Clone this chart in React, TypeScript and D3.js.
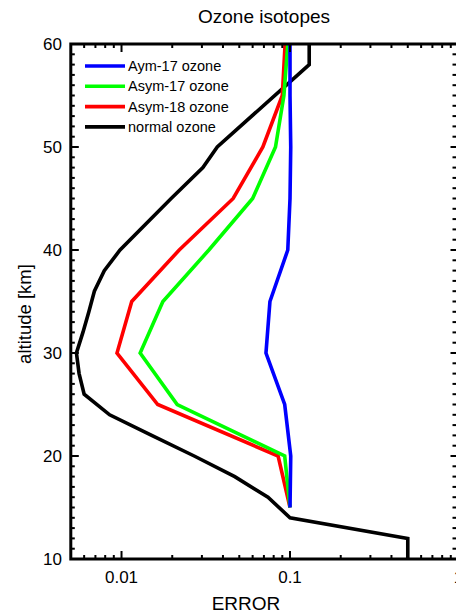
import * as d3 from 'd3';
import React from 'react';

// altitude levels [km]
const altIso = [60, 55, 50, 45, 40, 35, 30, 25, 20, 15];
const altNormal = [60, 58, 50, 48, 45, 40, 38, 36, 34, 32, 30, 28, 26, 24, 22, 20, 18, 16, 14, 12, 10];

// error values
const aym17 = [0.1, 0.1, 0.101, 0.1, 0.097, 0.076, 0.072, 0.093, 0.101, 0.1];
const asym17 = [0.097, 0.092, 0.082, 0.06, 0.033, 0.0176, 0.0129, 0.0214, 0.093, 0.1];
const asym18 = [0.0935, 0.09, 0.069, 0.046, 0.022, 0.0115, 0.0094, 0.0164, 0.085, 0.1];
const normal = [0.13, 0.13, 0.037, 0.0304, 0.0197, 0.0098, 0.0079, 0.0069, 0.0064, 0.0059, 0.0054, 0.0056, 0.006, 0.0085, 0.0151, 0.027, 0.047, 0.074, 0.1, 0.5, 0.5];

const seriesNames = ['Aym-17 ozone', 'Asym-17 ozone', 'Asym-18 ozone', 'normal ozone'];
const seriesColors = ['#0000ff', '#00ff00', '#ff0000', '#000000'];

const xTickVals = [0.01, 0.1, 1];
const xTickLabels = ['0.01', '0.1', '1'];
const yTickVals = [10, 20, 30, 40, 50, 60];

const App = () => {
  const width = 456;
  const height = 616;
  const font = 'Liberation Sans, Arial, sans-serif';

  // log x axis, 0.005 .. 1 ; right edge falls just past the window
  const x = d3.scaleLog([0.005, 1], [70.8, 458.5]);
  const y = d3.scaleLinear([10, 60], [559, 44]);
  const [x0, x1] = x.range();
  const [yb, yt] = y.range();

  const line = d3.line<[number, number]>((d) => x(d[0]), (d) => y(d[1]));

  const series = [
    { name: seriesNames[0], color: seriesColors[0], pts: aym17.map((v, i) => [v, altIso[i]] as [number, number]) },
    { name: seriesNames[1], color: seriesColors[1], pts: asym17.map((v, i) => [v, altIso[i]] as [number, number]) },
    { name: seriesNames[2], color: seriesColors[2], pts: asym18.map((v, i) => [v, altIso[i]] as [number, number]) },
    { name: seriesNames[3], color: seriesColors[3], pts: normal.map((v, i) => [v, altNormal[i]] as [number, number]) },
  ];
  const drawOrder = [3, 2, 1, 0];

  // minor ticks on log axis
  const xMinor: number[] = [];
  for (const dec of [0.001, 0.01, 0.1]) {
    for (let k = 2; k <= 9; k++) {
      const v = dec * k;
      if (v > 0.005 && v < 1) xMinor.push(v);
    }
  }
  const yMinor = d3.range(11, 60).filter((v) => v % 10 !== 0);

  return (
    <svg width={width} height={height} style={{ position: 'absolute', left: 0, top: 0 }} fontFamily={font}>
      <rect width={width} height={height} fill="white" />
      <text x={264} y={23} textAnchor="middle" fontSize={19}>Ozone isotopes</text>

      {/* data */}
      <g fill="none" strokeWidth={3.6} strokeLinejoin="miter">
        {drawOrder.map((i) => (
          <path key={i} d={line(series[i].pts) || ''} stroke={series[i].color} />
        ))}
      </g>

      {/* frame ticks */}
      <g stroke="black" strokeWidth={2}>
        {xMinor.map((v) => (
          <g key={'xm' + v}>
            <line x1={x(v)} x2={x(v)} y1={yb} y2={yb - 4} />
            <line x1={x(v)} x2={x(v)} y1={yt} y2={yt + 4} />
          </g>
        ))}
        {xTickVals.map((v) => (
          <g key={'xM' + v}>
            <line x1={x(v)} x2={x(v)} y1={yb} y2={yb - 8} />
            <line x1={x(v)} x2={x(v)} y1={yt} y2={yt + 8} />
          </g>
        ))}
        {yMinor.map((v) => (
          <g key={'ym' + v}>
            <line x1={x0} x2={x0 + 4} y1={y(v)} y2={y(v)} />
            <line x1={x1} x2={x1 - 6} y1={y(v)} y2={y(v)} />
          </g>
        ))}
        {yTickVals.map((v) => (
          <g key={'yM' + v}>
            <line x1={x0} x2={x0 + 8} y1={y(v)} y2={y(v)} />
            <line x1={x1} x2={x1 - 8} y1={y(v)} y2={y(v)} />
          </g>
        ))}
      </g>
      <rect x={x0} y={yt} width={x1 - x0} height={yb - yt} fill="none" stroke="black" strokeWidth={3} />

      {/* tick labels */}
      <g fontSize={17} fill="black">
        {xTickVals.map((v, i) => (
          <text key={v} x={x(v)} y={583} textAnchor="middle">{xTickLabels[i]}</text>
        ))}
        {yTickVals.map((v) => (
          <text key={v} x={62} y={y(v) + 6} textAnchor="end">{v}</text>
        ))}
      </g>

      <text x={246} y={610} textAnchor="middle" fontSize={19}>ERROR</text>
      <text transform="translate(31,314) rotate(-90)" textAnchor="middle" fontSize={18.5}>altitude [km]</text>

      {/* legend */}
      <g fontSize={14.5}>
        {seriesNames.map((n, i) => (
          <g key={n} transform={`translate(85,${66 + i * 20.3})`}>
            <line x1={0} x2={40} y1={0} y2={0} stroke={seriesColors[i]} strokeWidth={3.6} />
            <text x={43} y={5}>{n}</text>
          </g>
        ))}
      </g>
    </svg>
  );
};

export default App;
